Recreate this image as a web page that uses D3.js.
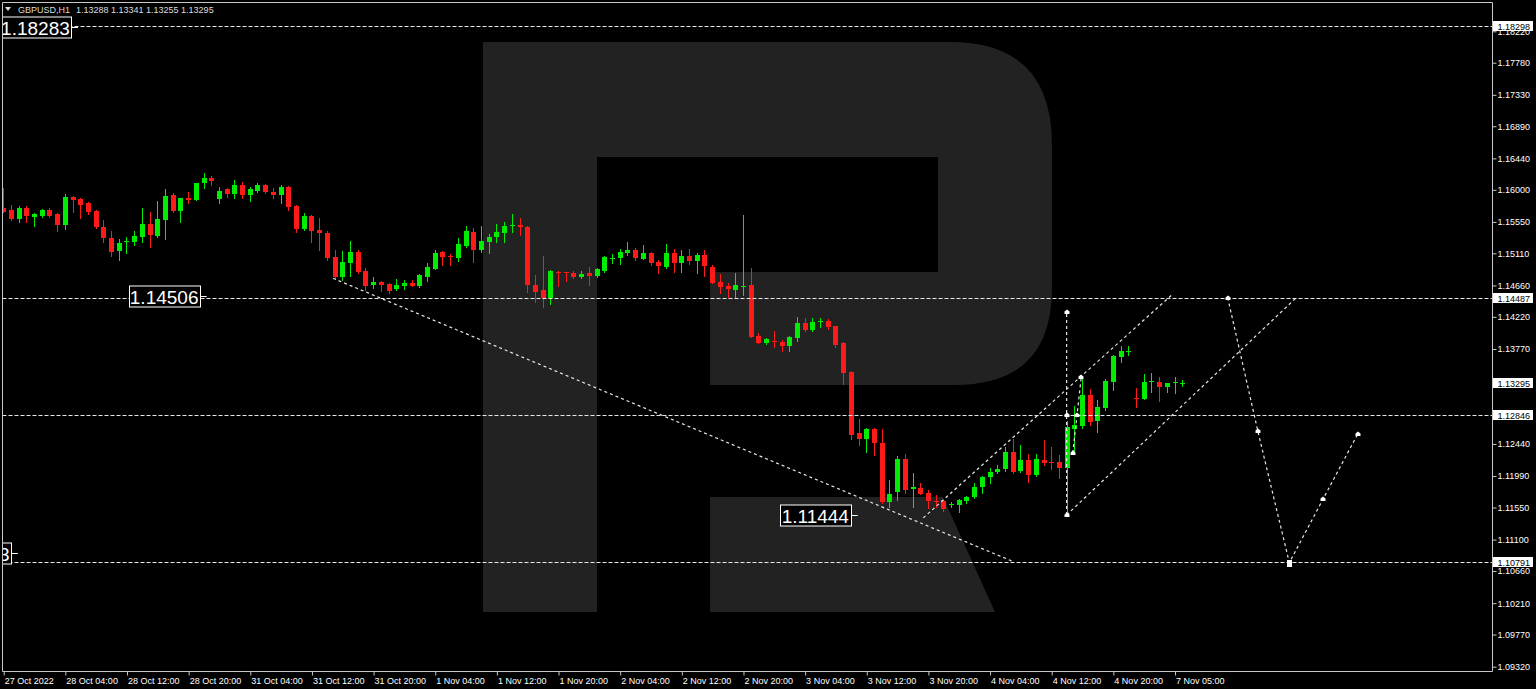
<!DOCTYPE html>
<html>
<head>
<meta charset="utf-8">
<script src="https://cdn.jsdelivr.net/npm/d3@7"></script>
<style>
html, body { margin: 0; padding: 0; background: #000; overflow: hidden; }
svg { display: block; }
text { font-family: "Liberation Sans", Arial, sans-serif; }
</style>
</head>
<body>
<div id="chart"></div>
<script>
// GBPUSD H1, bars from 27 Oct 2022 20:00
const open = [1.15745,1.15717,1.15587,1.15749,1.15615,1.15637,1.15717,1.15657,1.15507,1.15895,
	1.15871,1.15811,1.15707,1.15475,1.15329,1.15147,1.15273,1.15273,1.15343,1.15521,
	1.15357,1.15577,1.15927,1.15707,1.15889,1.15857,1.16091,1.16161,1.15871,1.16007,
	1.15941,1.16067,1.15927,1.15987,1.16067,1.15973,1.15927,1.16035,1.15773,1.15451,
	1.15637,1.15437,1.15399,1.15059,1.14783,1.14971,1.15133,1.14863,1.14667,1.14713,
	1.14681,1.14607,1.14653,1.14699,1.14653,1.14783,1.14891,1.15133,1.15073,1.15049,
	1.15217,1.15413,1.15157,1.15273,1.15335,1.15391,1.15497,1.15507,1.15483,1.14667,
	1.14597,1.14481,1.14853,1.14845,1.14839,1.14783,1.14839,1.14797,1.14867,1.15041,
	1.15049,1.15111,1.15157,1.15031,1.15111,1.14985,1.14915,1.15111,1.14971,1.15077,
	1.15007,1.15087,1.14923,1.14713,1.14656,1.14593,1.14643,1.14667,1.13953,1.13851,
	1.13883,1.13873,1.13817,1.13929,1.14131,1.14037,1.14149,1.14167,1.14093,1.13851,
	1.13453,1.12591,1.12507,1.12647,1.12459,1.11629,1.11773,1.12231,1.11807,1.11829,
	1.11751,1.11647,1.11636,1.11580,1.11580,1.11647,1.11695,1.11835,1.11975,1.12045,
	1.12087,1.12333,1.12067,1.12217,1.12007,1.12217,1.12193,1.12193,1.12109,1.12651,
	1.12693,1.13127,1.12767,1.12941,1.13313,1.13663,1.13725,1.13081,1.13067,1.13309,
	1.13313,1.13243,1.13295,1.13288];
const high = [1.16025,1.15787,1.15773,1.15766,1.15668,1.15731,1.15745,1.15675,1.15941,1.15913,
	1.15878,1.15825,1.15717,1.15577,1.15423,1.15307,1.15343,1.15423,1.15749,1.15693,
	1.15843,1.16007,1.15951,1.15889,1.15973,1.16099,1.16231,1.16197,1.16043,1.16021,
	1.16137,1.16105,1.16043,1.16091,1.16081,1.16021,1.16067,1.16053,1.15780,1.15671,
	1.15640,1.15601,1.15427,1.15157,1.15143,1.15287,1.15157,1.14901,1.14783,1.14727,
	1.14688,1.14751,1.14737,1.14737,1.14821,1.14971,1.15157,1.15143,1.15097,1.15321,
	1.15493,1.15461,1.15493,1.15377,1.15517,1.15553,1.15657,1.15601,1.15493,1.14807,
	1.15073,1.14877,1.14860,1.14849,1.14863,1.14863,1.14923,1.14901,1.15073,1.15101,
	1.15167,1.15265,1.15189,1.15227,1.15125,1.15017,1.15237,1.15167,1.15157,1.15171,
	1.15111,1.15157,1.14947,1.14825,1.14688,1.14835,1.15647,1.14909,1.13991,1.13929,
	1.14023,1.13897,1.13953,1.14215,1.14201,1.14201,1.14201,1.14187,1.14097,1.13873,
	1.13456,1.12787,1.12661,1.12661,1.12647,1.11937,1.12273,1.12301,1.12031,1.11891,
	1.11797,1.11727,1.11657,1.11633,1.11671,1.11717,1.11891,1.11993,1.12109,1.12147,
	1.12395,1.12507,1.12427,1.12301,1.12301,1.12497,1.12395,1.12287,1.12763,1.12973,
	1.13375,1.13211,1.13057,1.13347,1.13680,1.13817,1.13813,1.13225,1.13421,1.13431,
	1.13375,1.13299,1.13383,1.13341];
const low = [1.15689,1.15577,1.15553,1.15553,1.15493,1.15615,1.15619,1.15423,1.15451,1.15693,
	1.15601,1.15657,1.15461,1.15273,1.15077,1.15017,1.15111,1.15227,1.15273,1.15203,
	1.15343,1.15311,1.15693,1.15545,1.15819,1.15850,1.16021,1.16067,1.15811,1.15903,
	1.15881,1.15881,1.15847,1.15973,1.15951,1.15881,1.15811,1.15717,1.15413,1.15437,
	1.15273,1.15157,1.15010,1.14744,1.14737,1.14797,1.14831,1.14597,1.14629,1.14583,
	1.14559,1.14597,1.14607,1.14646,1.14643,1.14727,1.14887,1.14947,1.14947,1.15007,
	1.15203,1.14993,1.15133,1.15119,1.15273,1.15265,1.15413,1.15367,1.14573,1.14433,
	1.14363,1.14401,1.14657,1.14727,1.14769,1.14761,1.14667,1.14783,1.14845,1.14971,
	1.14957,1.15087,1.15017,1.15027,1.14947,1.14839,1.14901,1.14853,1.14845,1.14957,
	1.14831,1.14793,1.14691,1.14551,1.14499,1.14499,1.14527,1.13939,1.13851,1.13841,
	1.13803,1.13743,1.13743,1.13887,1.14023,1.14027,1.14075,1.14051,1.13803,1.13281,
	1.12507,1.12427,1.12325,1.12287,1.11611,1.11563,1.11657,1.11759,1.11563,1.11737,
	1.11541,1.11563,1.11507,1.11555,1.11482,1.11619,1.11681,1.11751,1.11899,1.12039,
	1.12067,1.12039,1.12053,1.11913,1.11993,1.12143,1.12091,1.11961,1.11444,1.12329,
	1.12661,1.12707,1.12613,1.12917,1.13197,1.13593,1.13687,1.12963,1.13064,1.13173,
	1.13047,1.13173,1.13159,1.13255];
const close = [1.15689,1.15587,1.15749,1.15637,1.15657,1.15717,1.15633,1.15507,1.15903,1.15857,
	1.15787,1.15693,1.15475,1.15321,1.15133,1.15259,1.15283,1.15357,1.15521,1.15367,
	1.15587,1.15913,1.15707,1.15881,1.15857,1.16091,1.16161,1.16127,1.15987,1.15941,
	1.16067,1.15927,1.16007,1.16067,1.15973,1.15927,1.16043,1.15763,1.15447,1.15637,
	1.15427,1.15391,1.15045,1.14779,1.14993,1.15133,1.14845,1.14657,1.14713,1.14667,
	1.14583,1.14667,1.14699,1.14653,1.14807,1.14915,1.15119,1.15055,1.15055,1.15241,
	1.15427,1.15157,1.15287,1.15343,1.15413,1.15493,1.15507,1.15475,1.14667,1.14573,
	1.14481,1.14863,1.14831,1.14831,1.14783,1.14821,1.14797,1.14891,1.15063,1.15045,
	1.15133,1.15157,1.15041,1.15111,1.14971,1.14937,1.15119,1.14971,1.15077,1.15003,
	1.15087,1.14929,1.14699,1.14639,1.14607,1.14667,1.14657,1.13943,1.13859,1.13907,
	1.13865,1.13817,1.13943,1.14131,1.14037,1.14153,1.14163,1.14075,1.13827,1.13431,
	1.12567,1.12507,1.12647,1.12451,1.11633,1.11741,1.12231,1.11797,1.11843,1.11741,
	1.11647,1.11633,1.11531,1.11601,1.11657,1.11703,1.11835,1.11975,1.12053,1.12091,
	1.12333,1.12053,1.12217,1.12007,1.12227,1.12179,1.12185,1.12109,1.12683,1.12707,
	1.13127,1.12753,1.12963,1.13323,1.13673,1.13743,1.13743,1.13067,1.13313,1.13316,
	1.13243,1.13291,1.13305,1.13295];

// time axis labels, one every 8 bars
const timeLabels = ["27 Oct 2022", "28 Oct 04:00", "28 Oct 12:00", "28 Oct 20:00", "31 Oct 04:00",
	"31 Oct 12:00", "31 Oct 20:00", "1 Nov 04:00", "1 Nov 12:00", "1 Nov 20:00", "2 Nov 04:00",
	"2 Nov 12:00", "2 Nov 20:00", "3 Nov 04:00", "3 Nov 12:00", "3 Nov 20:00", "4 Nov 04:00",
	"4 Nov 12:00", "4 Nov 20:00", "7 Nov 05:00"];
const priceTicks = [1.18220, 1.17780, 1.17330, 1.16890, 1.16440, 1.16000, 1.15550, 1.15110,
	1.14660, 1.14220, 1.13770, 1.13330, 1.12880, 1.12440, 1.11990, 1.11550, 1.11100, 1.10660,
	1.10210, 1.09770, 1.09320];

// horizontal levels and axis price marks
const levels = [1.18298, 1.14487, 1.12846, 1.10791];
const axisMarks = [1.18298, 1.14487, 1.13295, 1.12846, 1.10791];

// big price labels: price and the bar their tip points to
const labelPrices = [1.18283, 1.14506, 1.11444, 1.10913];
const labelBars = [9.7, 26.4, 110.9, 1.9];

// analysis drawings, [bar, price]
const trendDown = [[42.8, 1.14760], [130.9, 1.10800]];
const channelUp = [[119.4, 1.11405], [151.8, 1.14541]];
const channelLow = [[138, 1.11444], [167.9, 1.14499]];
const impulse = [[138, 1.11444], [138, 1.14288]];
const pullback = [[138.8, 1.12313], [139.9, 1.13378]];
const forecast = [[158.9, 1.14489], [162.8, 1.12626], [166.9, 1.10777], [171.3, 1.11673], [175.8, 1.12584]];
const markers = [[138, 1.14288], [138, 1.12846], [138, 1.11444], [138.8, 1.12313], [139.9, 1.13378],
	[139.4, 1.12846], [158.9, 1.14489], [162.8, 1.12626], [171.3, 1.11673], [175.8, 1.12584]];
const forecastEnd = [166.9, 1.10777];

const width = 1536, height = 689;
const plot = {left: 2.5, right: 1492.5, top: 2.5, bottom: 671.5};
const green = "#00ec00", red = "#ff1a1a";

const svg = d3.select("#chart").append("svg")
	.attr("width", width)
	.attr("height", height)
	.style("background", "#000");

let x = d3.scaleLinear().domain([0, 193.2]).range([3.2, 1492]);
let y = d3.scaleLinear().domain([1.09320, 1.17780]).range([666.7, 62.7]);

svg.append("clipPath").attr("id", "plotclip")
	.append("rect")
	.attr("x", plot.left).attr("y", plot.top)
	.attr("width", plot.right - plot.left).attr("height", plot.bottom - plot.top);

let g = svg.append("g").attr("clip-path", "url(#plotclip)");

// broker watermark
g.append("path")
	.attr("fill", "#222")
	.attr("d", "M483,42 L950,42 Q1052,42 1052,145 L1052,288 Q1052,385 955,385 L710,385 L710,272 L938,272 L938,157 L597,157 L597,612 L483,612 Z" +
		" M710,497 L943,497 L995,612 L710,612 Z");

// candles
let bars = d3.range(open.length);
let candle = g.append("g").selectAll("g")
	.data(bars).enter()
	.append("g");

candle.append("line")
	.attr("x1", i => Math.round(x(i)) + 0.5)
	.attr("x2", i => Math.round(x(i)) + 0.5)
	.attr("y1", i => Math.round(y(high[i])))
	.attr("y2", i => Math.round(y(low[i])) + 1)
	.attr("stroke", i => close[i] >= open[i] ? green : red)
	.attr("stroke-width", 1);

candle.append("rect")
	.attr("x", i => Math.round(x(i)) - 2)
	.attr("width", 5)
	.attr("y", i => Math.round(y(Math.max(open[i], close[i]))))
	.attr("height", i => Math.max(1, Math.round(y(Math.min(open[i], close[i]))) - Math.round(y(Math.max(open[i], close[i])))))
	.attr("fill", i => close[i] >= open[i] ? green : red);

// horizontal levels
g.selectAll(".level")
	.data(levels).enter()
	.append("line")
	.attr("class", "level")
	.attr("x1", plot.left)
	.attr("x2", plot.right)
	.attr("y1", d => Math.round(y(d)) + 0.5)
	.attr("y2", d => Math.round(y(d)) + 0.5)
	.attr("stroke", "#e8e8e8")
	.attr("stroke-dasharray", "4,2");

// trend lines and forecast
let line = d3.line().x(d => x(d[0])).y(d => y(d[1]));
[trendDown, channelUp, channelLow, impulse, pullback, forecast].forEach(pts => {
	g.append("path")
		.attr("d", line(pts))
		.attr("fill", "none")
		.attr("stroke", "#e8e8e8")
		.attr("stroke-width", 1.2)
		.attr("stroke-dasharray", "3,3");
});

g.selectAll(".marker")
	.data(markers).enter()
	.append("path")
	.attr("class", "marker")
	.attr("transform", d => `translate(${Math.round(x(d[0]))},${Math.round(y(d[1]))})`)
	.attr("d", "M-2.5,2 L-2.5,-0.5 L0,-2.5 L2.5,-0.5 L2.5,2 Z")
	.attr("fill", "#fff");

g.append("rect")
	.attr("x", Math.round(x(forecastEnd[0])) - 2)
	.attr("y", Math.round(y(forecastEnd[1])) - 3)
	.attr("width", 5)
	.attr("height", 7)
	.attr("fill", "#fff");

// big price labels
labelPrices.forEach((p, k) => {
	let tip = x(labelBars[k]);
	let cy = Math.round(y(p)) + 0.5;
	let bw = 71, bh = 21;
	g.append("line")
		.attr("x1", tip - 7).attr("x2", tip)
		.attr("y1", cy).attr("y2", cy)
		.attr("stroke", "#fff");
	g.append("rect")
		.attr("x", Math.round(tip - 7 - bw) + 0.5)
		.attr("y", Math.round(cy - bh / 2))
		.attr("width", bw)
		.attr("height", bh)
		.attr("fill", "#000")
		.attr("stroke", "#fff");
	g.append("text")
		.attr("x", tip - 7 - bw / 2)
		.attr("y", cy + 7)
		.attr("text-anchor", "middle")
		.attr("fill", "#fff")
		.style("font-size", "19px")
		.text(p.toFixed(5));
});

// frame
svg.append("path")
	.attr("d", `M${plot.left},${plot.bottom} L${plot.left},${plot.top} L${plot.right},${plot.top} L${plot.right},${plot.bottom} Z`)
	.attr("fill", "none")
	.attr("stroke", "#c8c8c8");

// price axis
let yAxis = svg.append("g")
	.attr("transform", `translate(${plot.right},0)`)
	.call(d3.axisRight(y).tickValues(priceTicks).tickSize(4).tickPadding(1).tickFormat(d3.format(".5f")));
yAxis.select(".domain").remove();
yAxis.selectAll("line").attr("stroke", "#c8c8c8");
yAxis.selectAll("text").attr("fill", "#fff").style("font-size", "9px");

// axis price marks
let marks = svg.append("g").selectAll("g")
	.data(axisMarks).enter()
	.append("g")
	.attr("transform", d => `translate(${plot.right + 0.5},${Math.round(y(d))})`);
marks.append("rect")
	.attr("x", 0).attr("y", -5)
	.attr("width", 40).attr("height", 10)
	.attr("fill", "#fff");
marks.append("text")
	.attr("x", 4.5).attr("y", 3.5)
	.attr("fill", "#000")
	.style("font-size", "9px")
	.text(d => d.toFixed(5));

// time axis
let xAxis = svg.append("g")
	.attr("transform", `translate(0,${plot.bottom})`)
	.call(d3.axisBottom(x).tickValues(timeLabels.map((d, k) => k * 8)).tickSize(4).tickFormat((d, k) => timeLabels[k]));
xAxis.select(".domain").remove();
xAxis.selectAll("line").attr("stroke", "#c8c8c8").attr("transform", "translate(0.5,0)");
xAxis.selectAll("text")
	.attr("fill", "#fff")
	.attr("text-anchor", "start")
	.attr("dx", 1)
	.attr("y", 6)
	.style("font-size", "9px");

// header
svg.append("path").attr("d", "M5,7 L11,7 L8,11 Z").attr("fill", "#ddd");
svg.append("text")
	.attr("x", 18).attr("y", 13)
	.attr("fill", "#ddd")
	.style("font-size", "9px")
	.text("GBPUSD,H1");
svg.append("text")
	.attr("x", 76).attr("y", 13)
	.attr("fill", "#ddd")
	.style("font-size", "9px")
	.text([open[153], high[153], low[153], close[153]].map(d => d.toFixed(5)).join(" "));
</script>
</body>
</html>
